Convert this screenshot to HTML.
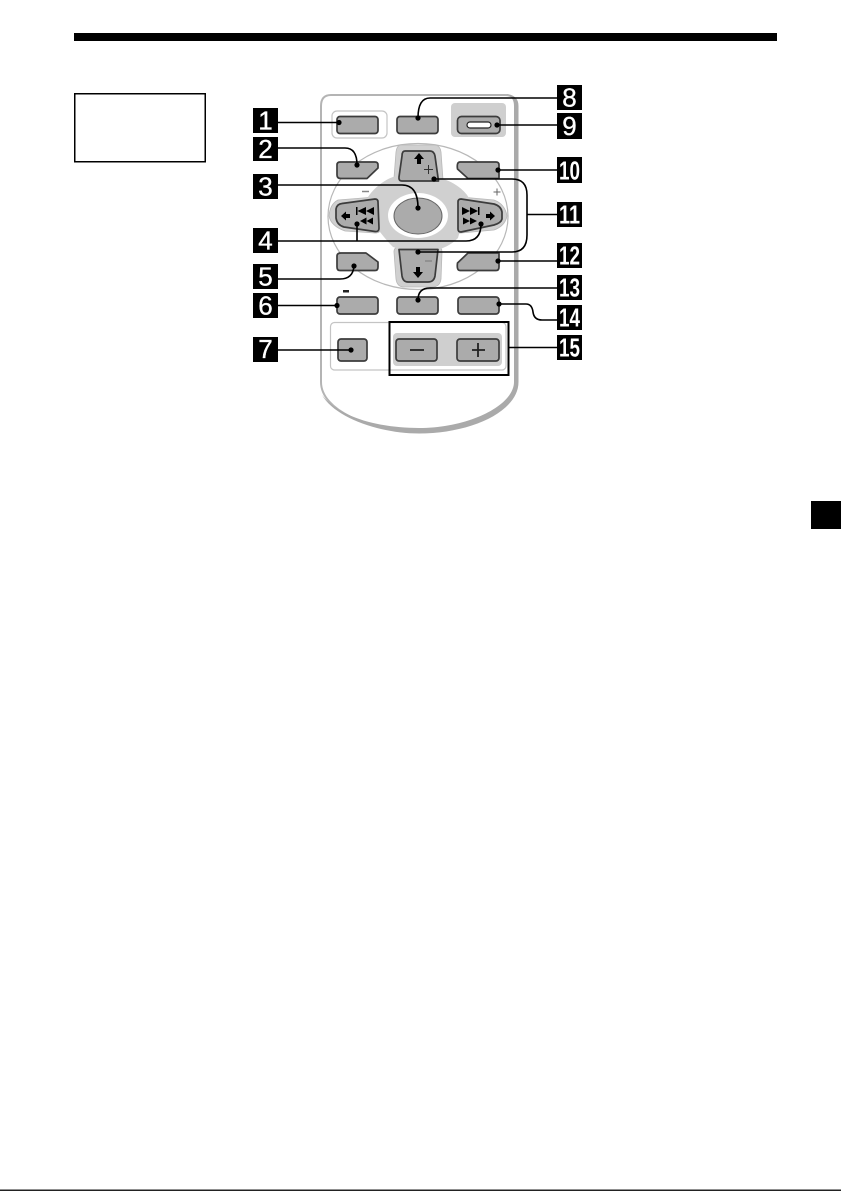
<!DOCTYPE html>
<html><head><meta charset="utf-8"><style>
html,body{margin:0;padding:0;background:#fff;width:841px;height:1191px;overflow:hidden}
svg{display:block}
.b{fill:#ababab;stroke:#3c3c3c;stroke-width:1.7;stroke-linejoin:round}
.l{fill:none;stroke:#000;stroke-width:1.6}
.t{fill:#fff;stroke:#fff;stroke-width:.35;font:normal 26px "Liberation Sans",sans-serif;text-anchor:middle}
.t2{fill:#fff;font:bold 26px "Liberation Sans",sans-serif;text-anchor:middle}
.k{fill:#000}
.p{fill:#d0d0d0;stroke:#b8b8b8;stroke-width:.8}
</style></head><body>
<svg width="841" height="1191" viewBox="0 0 841 1191" xmlns="http://www.w3.org/2000/svg">
<rect x="74" y="33" width="703" height="8" fill="#000"/>
<rect x="74.75" y="93.75" width="130.5" height="68" fill="#fff" stroke="#000" stroke-width="1.5"/>
<rect x="811" y="501" width="30" height="28" fill="#000"/>
<rect x="0" y="1189.5" width="841" height="1.5" fill="#222"/>

<!-- body -->
<path d="M331 95 H505 Q516 95 516 106 V382 C516 410 470 431 419 431 C368 431 321 410 321 382 V106 Q321 95 331 95 Z" fill="#fff" stroke="#b4b4b4" stroke-width="2"/>
<path d="M322 395 C335 418 380 433.500 419 433.500 C470 433.500 518.500 412 518.500 382 V106 Q518.500 95 506 94 Q514 97 514 106 V382 C514 405 470 428 419 428 C380 428 340 418 322 395 Z" fill="#aaa"/>

<!-- outlined areas -->
<rect x="332" y="111" width="55" height="27" rx="5" fill="#fff" stroke="#c4c4c4" stroke-width="1.2"/>
<rect x="451" y="103" width="55" height="34" rx="4" fill="#cfcfcf"/>
<ellipse cx="418" cy="216.500" rx="90" ry="73" fill="#fff" stroke="#b8b8b8" stroke-width="1.2"/>
<rect x="330.500" y="322.500" width="175.500" height="47.500" rx="4" fill="#fff" stroke="#c4c4c4" stroke-width="1.2"/>

<!-- cross: arms + central blob -->
<path class="p" d="M401 145 H434 Q440 145 441 152 L443 180 Q443 183 438 183 H399 Q393 183 394 178 L396 152 Q397 145 401 145 Z"/>
<path class="p" d="M399 247 H438 Q442 247 442 252 L441 279 Q440 287 432 287 H404 Q397 287 396 279 L394 252 Q394 247 399 247 Z"/>
<path class="p" d="M338 200 L375 197 Q381 197 381 203 V228 Q381 233 375 233 L345 231 Q331 226 329 216 Q330 204 338 200 Z"/>
<path class="p" d="M461 197 L494 200 Q505 204 507 216 Q505 226 494 230 L461 233 Q455 233 455 228 V203 Q455 197 461 197 Z"/>
<path d="M393 177 C412 172 424 172 440 178 C452 181 464 189 469 198 L458 238 C452 244 446 247 440 249 C424 252 408 252 393 247 C388 242 384 237 380 232 L368 197 C374 188 384 180 393 177 Z" fill="#d0d0d0"/>
<ellipse cx="418" cy="215.500" rx="30" ry="22.500" fill="#fff"/>
<ellipse cx="418" cy="216" rx="24" ry="18" fill="#ababab" stroke="#666" stroke-width="1"/>

<!-- buttons -->
<rect class="b" x="337" y="116.500" width="41" height="17" rx="3"/>
<rect class="b" x="397" y="116.500" width="41" height="17" rx="3"/>
<rect class="b" x="457.500" y="116.500" width="42.500" height="17" rx="4"/>
<rect x="467" y="122" width="24" height="6" rx="3" fill="#fff" stroke="#222" stroke-width="1.2"/>

<path class="b" d="M340 162 H375 Q378 162 378 165 V168 L367 178.500 H341 Q337 178.500 337 175 V165 Q337 162 340 162 Z"/>
<path class="b" d="M460 162 H496 Q499 162 499 165 V178.500 H468 L457.500 169 Q456.500 162 460 162 Z"/>
<path class="b" d="M340 270.500 H375 Q378 270.500 378 267 V262 L366 253 H341 Q337 253 337 256 V267 Q337 270.500 340 270.500 Z"/>
<path class="b" d="M460 270.500 H496 Q499 270.500 499 267 V253 H468 L457.500 263 Q456.500 270.500 460 270.500 Z"/>

<path class="b" d="M405 151 H430 Q434 151 435 156 L438.500 181 H402 Q398.500 181 399 177 L402 156 Q402 151 405 151 Z"/>
<path class="b" d="M399 249.500 H438 L435 276 Q434 282 428 282 H408 Q403 282 402 276 Z"/>
<path class="b" d="M342 203.500 L375 199 Q378 199 378 202 L379 228 Q379 232 375 231.500 L344 227 Q337 225 336 218 L336 209 Q337 204 342 203.500 Z"/>
<path class="b" d="M461 199 L494 204 Q501 206 502 212 V219 Q501 223 494 225 L461 232 Q458 232 458 229 V202 Q458 199 461 199 Z"/>

<rect class="b" x="337" y="297" width="41" height="17" rx="3"/>
<rect class="b" x="397" y="297" width="41" height="17" rx="3"/>
<rect class="b" x="458" y="297" width="41" height="17" rx="3"/>
<rect x="343" y="290" width="6" height="2.500" fill="#222"/>

<rect class="b" x="338" y="339" width="29" height="22" rx="3"/>
<rect x="393" y="333" width="109" height="33" rx="4" fill="#cfcfcf"/>
<rect class="b" x="396" y="339" width="41" height="22" rx="3"/>
<rect class="b" x="457" y="339" width="42" height="22" rx="3"/>
<rect x="389.500" y="322" width="119" height="53" fill="none" stroke="#000" stroke-width="2"/>
<path d="M410 350 H424 M472 350 H485 M478 343 V357" stroke="#222" stroke-width="1.800" fill="none"/>

<!-- icons -->
<path class="k" d="M419 153 L424 159 H421 V164 H417 V159 H414 Z"/>
<path class="k" d="M418 278 L423 272 H420 V267 H416 V272 H413 Z"/>
<path class="k" d="M341 216 L346 211.500 V214 H350 V218 H346 V220.500 Z"/>
<path class="k" d="M495 216 L490 211.500 V214 H486 V218 H490 V220.500 Z"/>
<path class="k" d="M356 207 H357.500 V215 H356 Z M357.500 211 L366 207 V215 Z M366 211 L374 207 V215 Z"/>
<path class="k" d="M360 221 L366.500 217.500 V224.500 Z M366.500 221 L373 217.500 V224.500 Z"/>
<path class="k" d="M462 207 L470 211 L462 215 Z M470 207 L478 211 L470 215 Z M478 207 H479.500 V215 H478 Z"/>
<path class="k" d="M463 217.500 L470 221 L463 224.500 Z M470 217.500 L477 221 L470 224.500 Z"/>
<path d="M424 169.500 H433 M428.500 165 V174" stroke="#333" stroke-width="1" fill="none"/>
<path d="M493.500 192 H500.500 M497 188.500 V195.500" stroke="#666" stroke-width="1" fill="none"/>
<path d="M362 191.500 H369" stroke="#888" stroke-width="1.500" fill="none"/>
<path d="M425 261 H432" stroke="#888" stroke-width="1.500" fill="none"/>

<!-- leaders -->
<path class="l" d="M278 122.500 H339"/>
<path class="l" d="M278 148 H345 Q357 148 357 165"/>
<path class="l" d="M278 185 H402 Q418 185 418 208"/>
<path class="l" d="M278 241 H466 Q481 241 481 224 M357 241 V224"/>
<path class="l" d="M278 279 H340 Q353 279 354 266"/>
<path class="l" d="M278 305.500 H337"/>
<path class="l" d="M278 350 H351"/>
<path class="l" d="M557 98 H430 Q418 98 418 118"/>
<path class="l" d="M557 125 H497"/>
<path class="l" d="M557 170 H498"/>
<path class="l" d="M434 179 H512 Q527 179 527 195 V235 Q527 252 512 252 H418 M527 214.500 H557"/>
<path class="l" d="M557 261 H498"/>
<path class="l" d="M557 288 H430 Q418 288 418 300"/>
<path class="l" d="M499 304 H526 Q532 304 533 312 Q534 320 542 320 H557"/>
<path class="l" d="M509 347.500 H557"/>
<g class="k">
<circle cx="339" cy="122.500" r="2.600"/><circle cx="357" cy="165" r="2.600"/><circle cx="418" cy="208" r="2.600"/>
<circle cx="357" cy="224" r="2.600"/><circle cx="481" cy="224" r="2.600"/><circle cx="354" cy="266" r="2.600"/>
<circle cx="337" cy="305.500" r="2.600"/><circle cx="351" cy="350" r="2.600"/><circle cx="418" cy="118" r="2.600"/>
<circle cx="497" cy="125" r="2.600"/><circle cx="498" cy="170" r="2.600"/><circle cx="434" cy="179" r="2.600"/>
<circle cx="418" cy="252" r="2.600"/><circle cx="498" cy="261" r="2.600"/><circle cx="418" cy="300" r="2.600"/>
<circle cx="499" cy="304" r="2.600"/>
</g>

<!-- number labels -->
<g fill="#000">
<rect x="253" y="108" width="25" height="25"/><rect x="253" y="137" width="25" height="24"/>
<rect x="253" y="174" width="25" height="25"/><rect x="253" y="228" width="25" height="25"/>
<rect x="253" y="264" width="25" height="25"/><rect x="253" y="293" width="25" height="25"/>
<rect x="253" y="337" width="25" height="25"/>
<rect x="557" y="85" width="25" height="25"/><rect x="557" y="113" width="25" height="26"/>
<rect x="557" y="157" width="25" height="26"/><rect x="557" y="202" width="25" height="25"/>
<rect x="557" y="243" width="25" height="25"/><rect x="557" y="275" width="25" height="25"/>
<rect x="557" y="305" width="25" height="25"/><rect x="557" y="335" width="25" height="25"/>
</g>
<g class="t">
<text x="265.500" y="129.500">1</text><text x="265.500" y="158">2</text><text x="265.500" y="195.500">3</text>
<text x="265.500" y="249.500">4</text><text x="265.500" y="285.500">5</text><text x="265.500" y="314.500">6</text>
<text x="265.500" y="358">7</text><text x="569.500" y="106.500">8</text><text x="569.500" y="135">9</text>
</g>
<g class="t2">
<text x="569.500" y="179.500" textLength="21" lengthAdjust="spacingAndGlyphs">10</text>
<text x="569.500" y="223.500" textLength="21" lengthAdjust="spacingAndGlyphs">11</text>
<text x="569.500" y="264.500" textLength="21" lengthAdjust="spacingAndGlyphs">12</text>
<text x="569.500" y="296.500" textLength="21" lengthAdjust="spacingAndGlyphs">13</text>
<text x="569.500" y="326.500" textLength="21" lengthAdjust="spacingAndGlyphs">14</text>
<text x="569.500" y="356.500" textLength="21" lengthAdjust="spacingAndGlyphs">15</text>
</g>
</svg>
</body></html>
